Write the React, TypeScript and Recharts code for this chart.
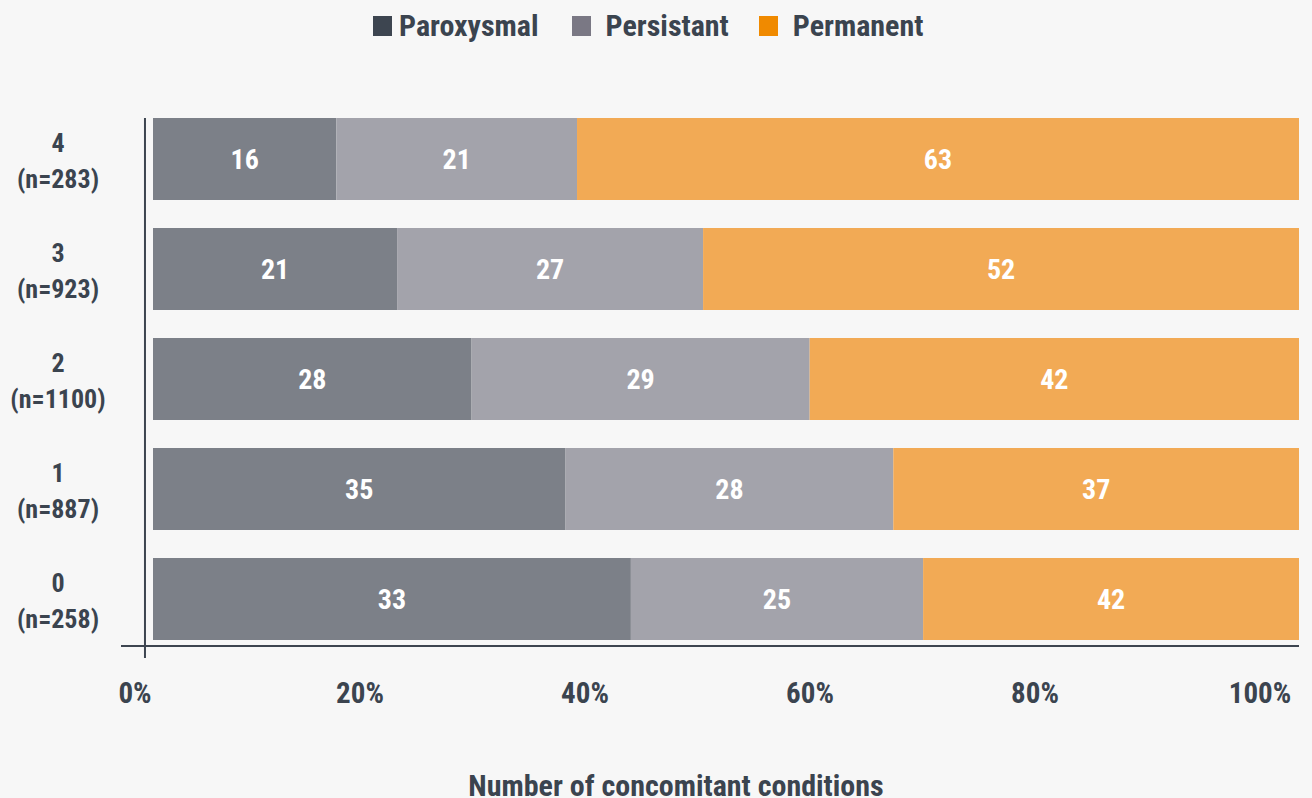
import React from 'react';
import {
  BarChart,
  Bar,
  XAxis,
  YAxis,
  Legend,
  LabelList,
  ReferenceLine,
  Label,
} from 'recharts';

// ---- data ----
const CATEGORIES = ['4', '3', '2', '1', '0'];
const N_LABELS = ['(n=283)', '(n=923)', '(n=1100)', '(n=887)', '(n=258)'];

// bar extents as drawn in the picture (% of row)
const PAROXYSMAL = [16, 21.3, 27.8, 36, 41.7];
const PERSISTANT = [21, 26.7, 29.5, 28.6, 25.5];
const PERMANENT = [63, 52, 42.7, 35.4, 32.8];

// numbers printed on the bars
const PAROXYSMAL_LABELS = [16, 21, 28, 35, 33];
const PERSISTANT_LABELS = [21, 27, 29, 28, 25];
const PERMANENT_LABELS = [63, 52, 42, 37, 42];

const X_TICKS = [0, 20, 40, 60, 80, 100];
const SERIES_NAMES = ['Paroxysmal', 'Persistant', 'Permanent'];
const BAR_COLORS = ['#7c8088', '#a3a3ab', '#f2aa55'];
const LEGEND_COLORS = ['#3d4550', '#7a7884', '#f08a00'];
const AXIS_TITLE = 'Number of concomitant conditions';

const FONT =
  "'Roboto Condensed','Liberation Sans Narrow','Arial Narrow','DejaVu Sans Condensed',Roboto,sans-serif";
const TEXT = '#3b444f';
const BG = '#f7f7f7';

const data = CATEGORIES.map((c, i) => ({
  cat: c,
  par: PAROXYSMAL[i],
  per: PERSISTANT[i],
  perm: PERMANENT[i],
  parLbl: PAROXYSMAL_LABELS[i],
  perLbl: PERSISTANT_LABELS[i],
  permLbl: PERMANENT_LABELS[i],
}));

const YTick = (props: any) => {
  const { x, y, payload } = props;
  const idx = CATEGORIES.indexOf(String(payload.value));
  const cx = x - 63;
  return (
    <text
      x={cx}
      y={y}
      textAnchor="middle"
      fill={TEXT}
      fontSize={26}
      fontWeight={700}
      fontFamily={FONT}
    >
      <tspan x={cx} dy={-7}>
        {payload.value}
      </tspan>
      <tspan x={cx} dy={36}>
        {N_LABELS[idx]}
      </tspan>
    </text>
  );
};

const LegendContent = () => (
  <div
    style={{
      display: 'flex',
      alignItems: 'center',
      height: 40,
      paddingLeft: 373,
      boxSizing: 'border-box',
    }}
  >
    {SERIES_NAMES.map((n, i) => (
      <div
        key={n}
        style={{ display: 'flex', alignItems: 'center', marginRight: i === 0 ? 33 : 30 }}
      >
        <span
          style={{
            display: 'inline-block',
            width: 19,
            height: 20,
            background: LEGEND_COLORS[i],
            marginRight: i === 0 ? 7 : 15,
          }}
        />
        <span
          style={{
            fontSize: 30,
            fontWeight: 700,
            color: TEXT,
            fontFamily: FONT,
            lineHeight: '40px',
          }}
        >
          {n}
        </span>
      </div>
    ))}
  </div>
);

const VLine = (props: any) => {
  const { x1, y1, x2, y2 } = props;
  const top = Math.min(y1, y2);
  const bottom = Math.max(y1, y2);
  return <line x1={x1} y1={top} x2={x2} y2={bottom + 12} stroke="#3d4550" strokeWidth={2} />;
};

const AxisTitle = (props: any) => {
  const { viewBox } = props;
  return (
    <text
      x={viewBox.x + viewBox.width / 2 - 34}
      y={viewBox.y + viewBox.height - 2}
      textAnchor="middle"
      fill={TEXT}
      fontSize={30}
      fontWeight={700}
      fontFamily={FONT}
    >
      {AXIS_TITLE}
    </text>
  );
};

export default function App() {
  return (
    <div
      style={{
        position: 'absolute',
        left: 0,
        top: 0,
        width: 1312,
        height: 798,
        background: BG,
        fontFamily: FONT,
      }}
    >
      <BarChart
        width={1312}
        height={798}
        data={data}
        layout="vertical"
        margin={{ top: 78, right: 13, left: 0, bottom: 0 }}
        barCategoryGap={14}
      >
        <Legend
          verticalAlign="top"
          content={<LegendContent />}
          wrapperStyle={{ top: 6, left: 0, width: 1312, height: 40, margin: 0 }}
        />
        <XAxis
          xAxisId="bar"
          type="number"
          domain={[0, 100]}
          padding={{ left: 32, right: 0 }}
          height={0}
          hide
        />
        <XAxis
          xAxisId="lbl"
          type="number"
          domain={[0, 100]}
          allowDataOverflow
          ticks={X_TICKS}
          tickFormatter={(v: number) => `${v}%`}
          padding={{ left: 14, right: 39 }}
          axisLine={{ stroke: '#3d4550', strokeWidth: 2 }}
          tickLine={false}
          tickSize={0}
          tickMargin={36}
          height={152}
          interval={0}
          tick={{ fill: TEXT, fontSize: 29, fontWeight: 700, fontFamily: FONT }}
        >
          <Label content={<AxisTitle />} />
        </XAxis>
        <YAxis
          type="category"
          dataKey="cat"
          width={121}
          axisLine={false}
          tickLine={false}
          tickSize={0}
          tickMargin={0}
          padding={{ top: -14, bottom: -8 }}
          tick={<YTick />}
          interval={0}
        />
        <ReferenceLine
          xAxisId="bar"
          x={-0.7}
          ifOverflow="visible"
          shape={<VLine />}
        />
        <Bar dataKey="par" name={SERIES_NAMES[0]} stackId="s" xAxisId="bar" fill={BAR_COLORS[0]} isAnimationActive={false}>
          <LabelList dataKey="parLbl" position="center" fill="#ffffff" fontSize={28} fontWeight={700} fontFamily={FONT} />
        </Bar>
        <Bar dataKey="per" name={SERIES_NAMES[1]} stackId="s" xAxisId="bar" fill={BAR_COLORS[1]} isAnimationActive={false}>
          <LabelList dataKey="perLbl" position="center" fill="#ffffff" fontSize={28} fontWeight={700} fontFamily={FONT} />
        </Bar>
        <Bar dataKey="perm" name={SERIES_NAMES[2]} stackId="s" xAxisId="bar" fill={BAR_COLORS[2]} isAnimationActive={false}>
          <LabelList dataKey="permLbl" position="center" fill="#ffffff" fontSize={28} fontWeight={700} fontFamily={FONT} />
        </Bar>
      </BarChart>
    </div>
  );
}
